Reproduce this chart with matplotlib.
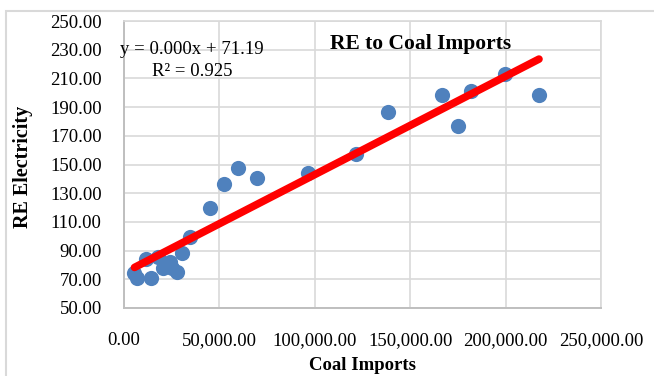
import numpy as np
import matplotlib
matplotlib.use("Agg")
import matplotlib.pyplot as plt
from matplotlib.patches import Rectangle
from matplotlib.ticker import FuncFormatter

plt.rcParams['font.family'] = ['Liberation Serif', 'DejaVu Serif']

# Coal imports vs renewable electricity
coal_imports = [5500, 7000, 11500, 14100, 17800, 20400, 24100, 25200, 27800, 30400,
                34600, 45100, 52400, 59800, 69700, 96400, 121600, 138400,
                166700, 175000, 181900, 199700, 217500]
re_electricity = [74.5, 71.0, 84.0, 71.0, 85.5, 78.0, 82.0, 78.0, 75.0, 88.3,
                  99.5, 119.7, 136.4, 147.6, 140.6, 144.0, 157.3, 186.6,
                  198.4, 176.8, 201.2, 213.0, 198.4]
x_ticks = [0, 50000, 100000, 150000, 200000, 250000]
y_ticks = [50, 70, 90, 110, 130, 150, 170, 190, 210, 230, 250]

x = np.array(coal_imports)
y = np.array(re_electricity)
slope, intercept = np.polyfit(x, y, 1)

fig = plt.figure(figsize=(6.54, 3.76), dpi=100)
ax = fig.add_axes([124 / 654, 1 - 308 / 376, 477 / 654, 287 / 376])

grid_c = '#d9d9d9'
ax.set_xlim(0, 250000)
ax.set_ylim(50, 250)
ax.set_xticks(x_ticks)
ax.set_yticks(y_ticks)
ax.grid(True, color=grid_c, linewidth=1.2)
ax.set_axisbelow(True)
for side in ['top', 'right']:
    ax.spines[side].set_color(grid_c)
    ax.spines[side].set_linewidth(1.2)
for side in ['left', 'bottom']:
    ax.spines[side].set_color('#bfbfbf')
    ax.spines[side].set_linewidth(1.4)
ax.tick_params(length=0, labelsize=13.5)
ax.tick_params(axis='x', pad=17)
ax.tick_params(axis='y', pad=16)
ax.xaxis.set_major_formatter(FuncFormatter(lambda v, p: f'{v:,.2f}'))
ax.yaxis.set_major_formatter(FuncFormatter(lambda v, p: f'{v:.2f}'))

ax.scatter(x, y, s=120, color='#4f81bd', zorder=3, linewidths=0)
xl = np.array([x.min(), x.max()])
ax.plot(xl, slope * xl + intercept, color='#ff0000', linewidth=5.5,
        solid_capstyle='round', zorder=4)

fig.text(421 / 654, 1 - 44 / 376, 'RE to Coal Imports', fontsize=15.5,
         fontweight='bold', ha='center', va='center')
fig.text(192 / 654, 1 - 50 / 376, 'y = 0.000x + 71.19', fontsize=13.5,
         ha='center', va='center')
fig.text(192 / 654, 1 - 72 / 376, 'R² = 0.925', fontsize=13.5,
         ha='center', va='center')
fig.text(362 / 654, 1 - 366 / 376, 'Coal Imports', fontsize=13.5,
         fontweight='bold', ha='center', va='center')
fig.text(23 / 654, 1 - 167 / 376, 'RE Electricity', fontsize=14.5,
         fontweight='bold', ha='center', va='center', rotation=90)

# outer chart border
fig.patches.append(Rectangle((6 / 654, -0.1), 1.0, 1 - 11 / 376 + 0.1,
                             transform=fig.transFigure, fill=False,
                             edgecolor='#d9d9d9', linewidth=1.5))

fig.savefig('out.png', dpi=100)
